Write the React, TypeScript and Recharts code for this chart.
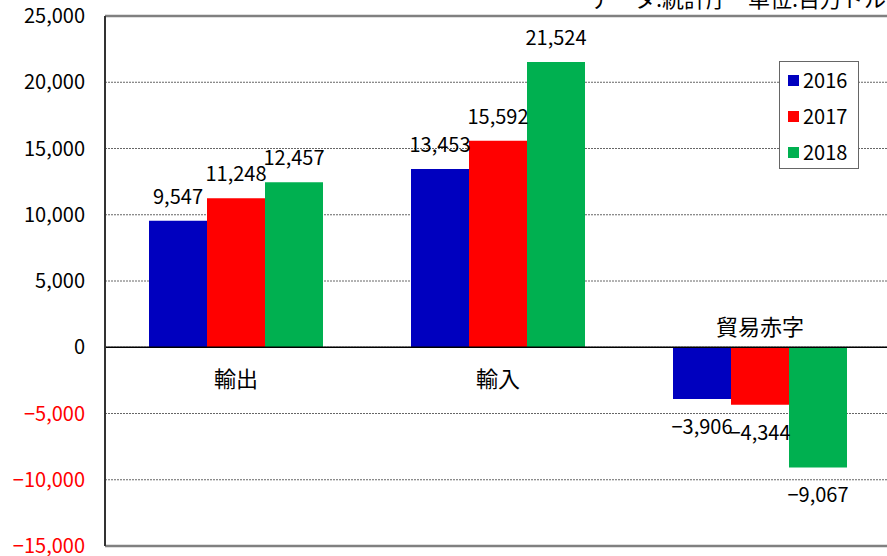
import { BarChart, Bar, XAxis, YAxis, CartesianGrid, ReferenceLine, LabelList } from 'recharts'

// 日本の対韓貿易（百万ドル）
const categories = ['輸出', '輸入', '貿易赤字']
const y2016 = [9547, 13453, -3906]
const y2017 = [11248, 15592, -4344]
const y2018 = [12457, 21524, -9067]
const yTicks = [-15000, -10000, -5000, 0, 5000, 10000, 15000, 20000, 25000]
const years = ['2016', '2017', '2018']
const colors = ['#0000BF', '#FF0000', '#00B050']

const data = categories.map((name, i) => ({
  name,
  y2016: y2016[i],
  y2017: y2017[i],
  y2018: y2018[i],
}))

const FONT = '"Noto Sans CJK JP", "Noto Sans", sans-serif'

const fmt = (v: number) => (v < 0 ? '\u2212' : '') + Math.abs(v).toLocaleString('en-US')

const YTick = (props: any) => {
  const { x, y, payload } = props
  const v = payload.value as number
  return (
    <text x={x} y={y + 7} textAnchor="end" fontSize={20} fontFamily={FONT} fill={v < 0 ? '#FF0000' : '#000'}>
      {fmt(v)}
    </text>
  )
}

// 棒の上（負の値なら下）に数値
const ValueLabel = (props: any) => {
  const { x, y, width, height, value } = props
  const top = Math.min(y, y + height)
  const bottom = Math.max(y, y + height)
  const neg = value < 0
  return (
    <text
      x={x + width / 2}
      y={neg ? bottom + 35 : top - 17}
      textAnchor="middle"
      fontSize={20}
      fontFamily={FONT}
      fill="#000"
    >
      {fmt(value)}
    </text>
  )
}

// 項目名は0の線の下（マイナスの項目は上）
const CategoryLabel = (props: any) => {
  const { x, y, width, height, index } = props
  const v = y2017[index]
  const zero = v < 0 ? Math.min(y, y + height) : Math.max(y, y + height)
  return (
    <text
      x={x + width / 2}
      y={v < 0 ? zero - 12 : zero + 40}
      textAnchor="middle"
      fontSize={22}
      fontFamily={FONT}
      fill="#000"
    >
      {categories[index]}
    </text>
  )
}

const LegendBox = () => (
  <div
    style={{
      position: 'absolute',
      left: 779,
      top: 61,
      width: 80,
      height: 108,
      border: '1px solid #666',
      background: '#fff',
      fontFamily: FONT,
      fontSize: 20,
      boxSizing: 'border-box',
    }}
  >
    {years.map((yr, i) => (
      <div key={yr} style={{ display: 'flex', alignItems: 'center', height: 36, paddingLeft: 8 }}>
        <span style={{ width: 11, height: 11, background: colors[i], marginRight: 4 }} />
        <span style={{ lineHeight: 1 }}>{yr}</span>
      </div>
    ))}
  </div>
)

const titleStyle = {
  position: 'absolute' as const,
  top: -14,
  fontFamily: FONT,
  fontSize: 22,
  lineHeight: 1,
  whiteSpace: 'nowrap' as const,
}

export default function App() {
  return (
    <div style={{ position: 'fixed', left: 0, top: 0, width: 887, height: 556, overflow: 'hidden', background: '#fff' }}>
      <div style={{ ...titleStyle, left: 590 }}>データ:統計庁</div>
      <div style={{ ...titleStyle, left: 748 }}>単位:百万ドル</div>
      <BarChart
        width={900}
        height={556}
        data={data}
        margin={{ top: 16, right: 9, bottom: 10, left: 0 }}
        barGap={0}
        barCategoryGap={44}
      >
        <CartesianGrid horizontal vertical={false} stroke="#666" strokeDasharray="2 1" />
        <XAxis dataKey="name" hide />
        <YAxis
          type="number"
          domain={[-15000, 25000]}
          ticks={yTicks}
          interval={0}
          width={105}
          tickLine={false}
          tickSize={0}
          tickMargin={20}
          axisLine={{ stroke: '#333', strokeWidth: 2 }}
          tick={<YTick />}
        />
        <ReferenceLine y={25000} stroke="#808080" strokeWidth={2.5} />
        <ReferenceLine y={-15000} stroke="#808080" strokeWidth={2.5} />
        <ReferenceLine y={0} stroke="#000" strokeWidth={1.5} />
        <Bar dataKey="y2016" name="2016" fill={colors[0]} isAnimationActive={false}>
          <LabelList dataKey="y2016" content={<ValueLabel />} />
        </Bar>
        <Bar dataKey="y2017" name="2017" fill={colors[1]} isAnimationActive={false}>
          <LabelList dataKey="y2017" content={<ValueLabel />} />
          <LabelList dataKey="name" content={<CategoryLabel />} />
        </Bar>
        <Bar dataKey="y2018" name="2018" fill={colors[2]} isAnimationActive={false}>
          <LabelList dataKey="y2018" content={<ValueLabel />} />
        </Bar>
      </BarChart>
      <LegendBox />
    </div>
  )
}
